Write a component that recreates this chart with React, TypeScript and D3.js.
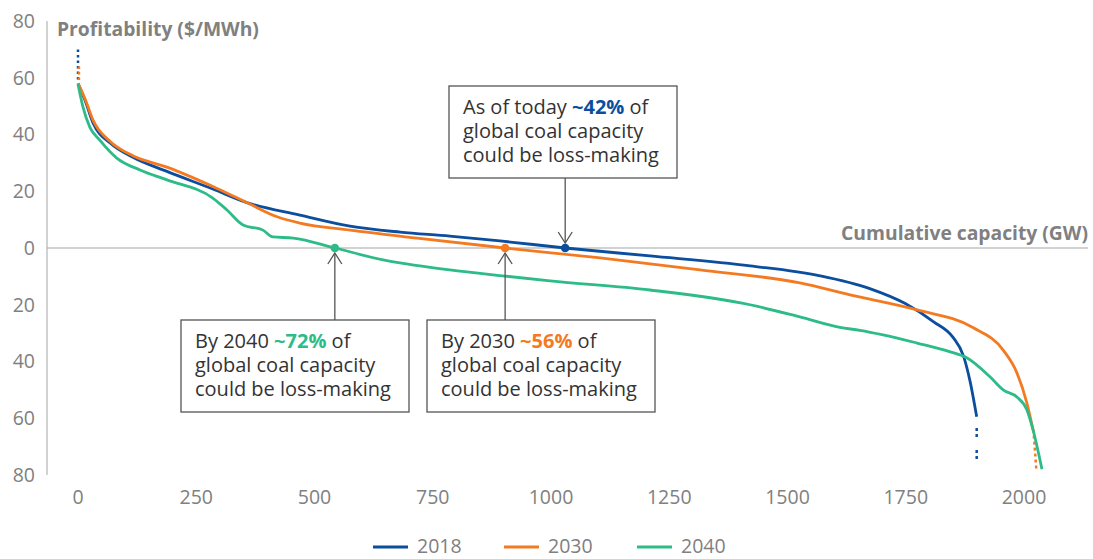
import React from "react";
import * as d3 from "d3";

// Profitability curves (x: cumulative capacity in GW, y: $/MWh)
const capacity2018 = [0, 15, 32, 68, 116, 188, 285, 357, 469, 575, 681, 786, 892, 1030, 1209, 1421, 1569, 1674, 1748, 1809, 1850, 1872, 1886, 1900];
const profit2018 = [58, 52, 44, 37, 32, 27, 20.8, 16, 11.6, 7.7, 5.6, 4.2, 2.5, 0, -2.8, -6.3, -9.8, -14.3, -19.5, -26, -31.5, -38, -47, -59.5];

const capacity2030 = [0, 15, 32, 68, 116, 188, 294, 357, 421, 469, 575, 717, 903, 1104, 1315, 1526, 1632, 1774, 1892, 1956, 1985, 2006, 2019];
const profit2030 = [58, 52.5, 45, 37.5, 32.5, 28.5, 21, 16, 11, 8.8, 6.3, 3.5, 0, -3.5, -7.7, -12.3, -16.5, -21.8, -28, -36, -44, -54.6, -64];

const capacity2040 = [0, 10, 25, 46, 82, 131, 188, 285, 315, 349, 391, 412, 455, 543, 645, 786, 903, 998, 1209, 1421, 1526, 1611, 1653, 1702, 1774, 1844, 1879, 1928, 1956, 1985, 2006, 2019, 2038];
const profit2040 = [57.7, 50, 42.6, 38, 31.7, 27.5, 24, 17.6, 13.4, 8.1, 6.3, 3.9, 3.5, 0, -4.2, -7.7, -9.9, -11.6, -14.8, -20, -24.3, -28, -29, -30.6, -33.5, -36.6, -38.7, -45.4, -50, -52.5, -57, -64, -78];

// Off-scale continuations drawn as dotted segments
const offScale2018Start = [[0, 70], [0, 58.5]];
const offScale2030Start = [[2, 64], [2, 58.5]];
const offScale2018End = [[1900, -63.4], [1900, -74.5]];
const offScale2030End = [[2020, -64], [2026, -78]];

// Break-even points (profitability = 0)
const breakEven = [
  { series: "2018", capacity: 1030, share: "~42%", prefix: "As of today ", above: true },
  { series: "2030", capacity: 903, share: "~56%", prefix: "By 2030 ", above: false },
  { series: "2040", capacity: 543, share: "~72%", prefix: "By 2040 ", above: false },
];

const xTicks = [0, 250, 500, 750, 1000, 1250, 1500, 1750, 2000];
const yTicks = [80, 60, 40, 20, 0, -20, -40, -60, -80];
const seriesNames = ["2018", "2030", "2040"];

const colors: Record<string, string> = {
  "2018": "#0C4E9E",
  "2030": "#F47A22",
  "2040": "#2DBB88",
};

const FONT = "'Open Sans', 'Noto Sans', sans-serif";
const GRAY = "#808080";
const TEXT = "#333333";

export default function App() {
  const x = d3.scaleLinear().domain([0, 2000]).range([78, 1024]);
  const y = d3.scaleLinear().domain([-80, 80]).range([475, 21]);

  const line = d3
    .line<[number, number]>()
    .x((d) => x(d[0]))
    .y((d) => y(d[1]))
    .curve(d3.curveMonotoneX);
  const straight = d3
    .line<number[]>()
    .x((d) => x(d[0]))
    .y((d) => y(d[1]));

  const series = [
    { name: "2018", xs: capacity2018, ys: profit2018 },
    { name: "2030", xs: capacity2030, ys: profit2030 },
    { name: "2040", xs: capacity2040, ys: profit2040 },
  ];

  const axisLeft = 47;
  const zeroY = y(0);

  const boxW = 228;
  const boxH = 92;

  return (
    <svg
      width={1093}
      height={559}
      style={{ position: "absolute", left: 0, top: 0, background: "#fff" }}
      fontFamily={FONT}
    >
      {/* vertical axis */}
      <line x1={axisLeft} x2={axisLeft} y1={y(80)} y2={y(-80)} stroke="#a6a6a6" strokeWidth={1} />
      {yTicks.map((t) => (
        <text key={t} x={35} y={y(t)} dy="0.35em" textAnchor="end" fontSize={19.5} fill={GRAY}>
          {Math.abs(t)}
        </text>
      ))}
      {/* zero line */}
      <line x1={axisLeft} x2={1088} y1={zeroY} y2={zeroY} stroke="#a6a6a6" strokeWidth={1.2} />
      {xTicks.map((t) => (
        <text key={t} x={x(t)} y={504} textAnchor="middle" fontSize={19.5} fill={GRAY}>
          {t}
        </text>
      ))}

      <text x={57} y={36} fontSize={19.3} fontWeight={700} fill={GRAY}>
        Profitability ($/MWh)
      </text>
      <text x={1088} y={240} textAnchor="end" fontSize={19.3} fontWeight={700} fill={GRAY}>
        Cumulative capacity (GW)
      </text>

      {/* dotted off-scale segments */}
      <path d={straight(offScale2018Start) || ""} stroke={colors["2018"]} strokeWidth={2.5} strokeDasharray="2.5,3" fill="none" />
      <path d={straight(offScale2030Start) || ""} stroke={colors["2030"]} strokeWidth={2.5} strokeDasharray="2.5,3" fill="none" />
      <path d={straight(offScale2018End) || ""} stroke={colors["2018"]} strokeWidth={2.5} strokeDasharray="3,3,3,13" fill="none" />
      <path d={straight(offScale2030End) || ""} stroke={colors["2030"]} strokeWidth={2.5} strokeDasharray="3,3" fill="none" />

      {/* curves */}
      {series.map((s) => (
        <path
          key={s.name}
          d={line(s.xs.map((v, i) => [v, s.ys[i]] as [number, number])) || ""}
          stroke={colors[s.name]}
          strokeWidth={2.8}
          fill="none"
          strokeLinejoin="round"
        />
      ))}

      {/* annotations */}
      {breakEven.map((b) => {
        const px = x(b.capacity);
        const color = colors[b.series];
        const boxX = b.series === "2018" ? 449 : b.series === "2030" ? 427 : 181;
        const boxY = b.above ? 86 : 320;
        const arrowStart = b.above ? boxY + boxH : boxY;
        const arrowEnd = b.above ? zeroY - 5 : zeroY + 5;
        const dir = b.above ? -1 : 1;
        const tx = boxX + 14;
        return (
          <g key={b.series}>
            <line x1={px} x2={px} y1={arrowStart} y2={arrowEnd} stroke="#555" strokeWidth={1.3} />
            <path
              d={`M${px - 7},${arrowEnd + dir * 11} L${px},${arrowEnd} L${px + 7},${arrowEnd + dir * 11}`}
              stroke="#555"
              strokeWidth={1.3}
              fill="none"
            />
            <circle cx={px} cy={zeroY} r={4.3} fill={color} />
            <rect x={boxX} y={boxY} width={boxW} height={boxH} fill="#fff" stroke="#555" strokeWidth={1.3} />
            <text x={tx} y={boxY + 28} fontSize={20} fill={TEXT}>
              <tspan x={tx}>
                {b.prefix}
                <tspan fontWeight={700} fill={color}>
                  {b.share}
                </tspan>
                {" of"}
              </tspan>
              <tspan x={tx} dy={24}>
                global coal capacity
              </tspan>
              <tspan x={tx} dy={24}>
                could be loss-making
              </tspan>
            </text>
          </g>
        );
      })}

      {/* legend */}
      {seriesNames.map((n, i) => {
        const lx = [373, 504, 637][i];
        return (
          <g key={n}>
            <line x1={lx} x2={lx + 35} y1={547} y2={547} stroke={colors[n]} strokeWidth={3} />
            <text x={lx + 44} y={553} fontSize={19.5} fill={GRAY}>
              {n}
            </text>
          </g>
        );
      })}
    </svg>
  );
}
